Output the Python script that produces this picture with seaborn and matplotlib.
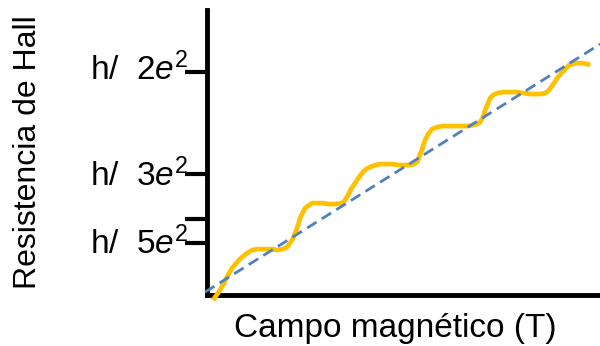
import matplotlib
matplotlib.use("Agg")
import matplotlib.pyplot as plt
import matplotlib.transforms as mtransforms
import seaborn as sns
import pandas as pd

# Data (arbitrary units: field B, Hall resistance R)
field_B = [6, 13, 17, 21, 25, 30, 35, 40, 45, 50, 55, 60, 65, 70, 76, 80, 83, 86,
           88, 91, 93, 96, 98, 102, 105, 110, 116, 122, 128, 135, 138, 141, 144,
           148, 152, 155, 159, 163, 168, 173, 180, 186, 192, 198, 203, 207, 210,
           212, 215, 218, 221, 225, 230, 236, 244, 253, 260, 266, 270, 273, 276,
           278, 281, 283, 286, 290, 296, 303, 310, 316, 324, 333, 338, 341, 344,
           347, 350, 354, 358, 362, 366, 370, 375, 380, 383]
hall_R = [-5, 5, 12, 20, 27, 33, 38, 42, 45, 46, 46, 46, 46, 45, 46, 48, 52, 57,
          62, 70, 77, 83, 87, 90, 92, 92, 92, 91, 91, 92, 95, 100, 106, 112, 118,
          122, 126, 128, 130, 131, 131, 131, 130, 130, 130, 131, 133, 138, 146,
          155, 161, 166, 168, 169, 169, 169, 169, 170, 171, 173, 178, 185, 192,
          197, 200, 202, 203, 203, 203, 202, 201, 201, 202, 204, 208, 212, 217,
          222, 226, 230, 231, 232, 232, 231, 230]
classical_B = [-2, 393]
classical_R = [3, 251]
tick_values = [52, 76, 121, 223]
tick_labels = [r"h/  $\mathit{5e}^{\mathrm{2}}$", "", r"h/  $\mathit{3e}^{\mathrm{2}}$",
               r"h/  $\mathit{2e}^{\mathrm{2}}$"]

sns.set_theme(style="white")
plt.rcParams["font.family"] = ["Liberation Sans", "DejaVu Sans"]
plt.rcParams["mathtext.fontset"] = "custom"
plt.rcParams["mathtext.rm"] = "Liberation Sans"
plt.rcParams["mathtext.it"] = "Liberation Sans:italic"
plt.rcParams["text.color"] = "black"
plt.rcParams["axes.labelcolor"] = "black"
plt.rcParams["ytick.color"] = "black"
plt.rcParams["ytick.labelcolor"] = "black"

fig = plt.figure(figsize=(6.0, 3.46), dpi=100)
ax = fig.add_axes([0.345, 0.147, 0.652, 0.824])

df_q = pd.DataFrame({"B": field_B, "R": hall_R})
df_c = pd.DataFrame({"B": classical_B, "R": classical_R})

sns.lineplot(data=df_q, x="B", y="R", ax=ax, color="#FFC000", linewidth=3.4,
             sort=False, clip_on=False, solid_capstyle="butt", solid_joinstyle="round")
sns.lineplot(data=df_c, x="B", y="R", ax=ax, color="#4F81BD", linewidth=2.0,
             linestyle=(0, (4, 2.2)), sort=False, clip_on=False)

ax.set_xlim(0, 391)
ax.set_ylim(0, 285)
ax.set_xticks([])
ax.set_yticks(tick_values)
ax.set_yticklabels(tick_labels, fontsize=24)
ax.tick_params(axis="y", direction="out", length=16, width=3, color="black",
               pad=-3, left=True)
shifts = [3, 0, 2, 6]
for lbl, dy in zip(ax.get_yticklabels(), shifts):
    lbl.set_transform(lbl.get_transform() +
                      mtransforms.ScaledTranslation(0, dy / 100, fig.dpi_scale_trans))
for s in ["top", "right"]:
    ax.spines[s].set_visible(False)
for s in ["left", "bottom"]:
    ax.spines[s].set_color("black")
    ax.spines[s].set_linewidth(3.5)
    ax.spines[s].set_zorder(1)

ax.set_xlabel("")
ax.set_ylabel("")
fig.text(395 / 600, 1 - 337 / 346, "Campo magnético (T)", fontsize=24,
         ha="center", va="baseline")
fig.text(28 / 600, 1 - 152 / 346, "Resistencia de Hall", fontsize=23,
         rotation=90, ha="center", va="center")

fig.savefig("out.png", dpi=100)
